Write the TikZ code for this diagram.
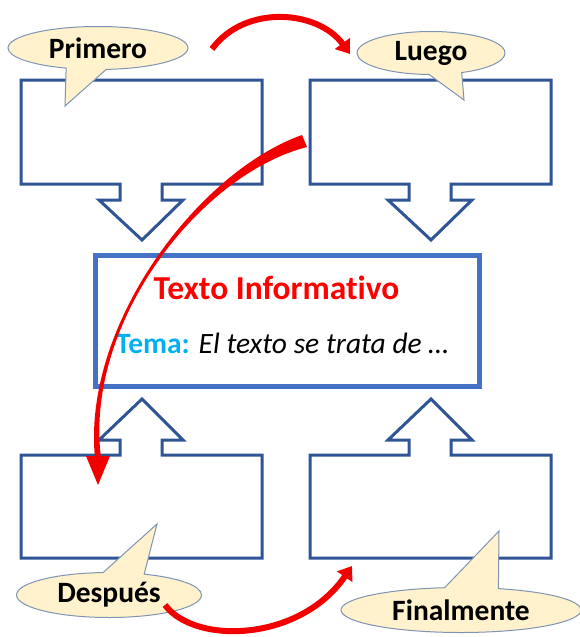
\documentclass[tikz,border=0pt]{standalone}
\usepackage{fontspec}
\setmainfont{Carlito}[Ligatures=NoCommon]
\usetikzlibrary{shapes.callouts,arrows.meta}
\definecolor{boxblue}{HTML}{2F5597}
\definecolor{mainblue}{HTML}{4472C4}
\definecolor{callfill}{HTML}{FFF2CC}
\definecolor{callline}{HTML}{7F93B5}
\definecolor{temablue}{HTML}{00B0F0}
\definecolor{arrred}{HTML}{F20000}
\definecolor{titlered}{HTML}{FF0000}
\tikzset{
  boxline/.style={draw=boxblue, line width=3pt, fill=white, line join=miter},
  downbox/.pic={
    \draw[boxline] (0,0) -- (241,0) -- (241,104) -- (141,104) -- (141,120) -- (162,120)
      -- (121,160) -- (78,120) -- (99,120) -- (99,104) -- (0,104) -- cycle;
    \coordinate (-c) at (120,52);
  },
  upbox/.pic={
    \draw[boxline] (0,0) -- (99,0) -- (99,-15) -- (78,-15) -- (121,-56) -- (162,-15)
      -- (141,-15) -- (141,0) -- (241,0) -- (241,103) -- (0,103) -- cycle;
    \coordinate (-c) at (120,52);
  },
  bubble/.style={ellipse callout, draw=callline, line width=1pt, fill=callfill,
    inner sep=0pt, callout pointer arc=26,
    font=\fontsize{29.5}{29.5}\selectfont\bfseries},
  redarrow/.style={draw=arrred, line width=6pt,
    -{Triangle[width=18pt,length=13pt]}},
}
\begin{document}
\begin{tikzpicture}[x=1pt,y=-1pt]
\useasboundingbox (0,0) rectangle (580,637);

% boxes with arrows
\pic (tl) at (21,80) {downbox};
\pic (tr) at (310,80) {downbox};
\pic (bl) at (21,455) {upbox};
\pic (br) at (310,455) {upbox};

% central box
\node[draw=mainblue, line width=5pt, minimum width=384pt, minimum height=131pt,
      inner sep=0pt] (main) at (287,320.5) {};
\node[text=titlered, font=\fontsize{33.5}{33.5}\selectfont\bfseries] (title) at (276.5,288) {Texto Informativo};
\node[anchor=base, font=\fontsize{29.5}{29.5}\selectfont] (tema) at (282.5,353)
  {\textcolor{temablue}{\bfseries Tema:} \itshape El texto se trata de …};

% callouts
\node[bubble, minimum width=180pt, minimum height=43pt,
      callout absolute pointer={(65,106)}] (primero) at (98,48) {Primero};
\node[bubble, minimum width=148pt, minimum height=43pt,
      callout absolute pointer={(464,100)}] (luego) at (431,53) {Luego};
\node[bubble, minimum width=185pt, minimum height=45pt,
      callout absolute pointer={(157,524)}] (despues) at (109,595) {Después};
\node[bubble, minimum width=240pt, minimum height=45pt,
      callout absolute pointer={(499,531)}] (final) at (461,610) {Finalmente};

% red arrows
\coordinate (a1s) at (212,49);
\coordinate (a1e) at (350,54);
\draw[redarrow] (a1s) .. controls (245,4) and (318,10) .. (a1e);

\coordinate (a3s) at (165,605);
\coordinate (a3e) at (352,566);
\draw[redarrow] (a3s) .. controls (195,645) and (300,642) .. (a3e);

\coordinate (a2s) at (304,141);
\coordinate (a2e) at (98,458);
\fill[arrred] ([shift={(-2,-6)}]a2s) .. controls (198,172) and (82,325) .. ([shift={(-3,0)}]a2e)
  -- ([shift={(3,0)}]a2e) .. controls (84,325) and (198,175) .. ([shift={(3,6)}]a2s) -- cycle;
\fill[arrred] ([shift={(-12,-2)}]a2e) -- ([shift={(12,-2)}]a2e) -- ([shift={(0,27)}]a2e) -- cycle;
\end{tikzpicture}
\end{document}
